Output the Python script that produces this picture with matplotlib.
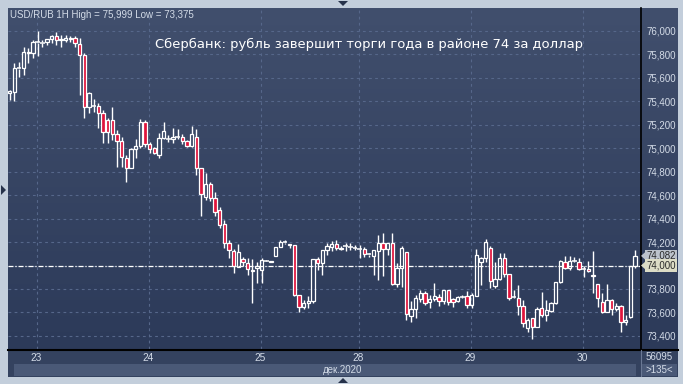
import numpy as np
import matplotlib
matplotlib.use('Agg')
import matplotlib.pyplot as plt
from matplotlib.patches import Rectangle, Polygon
from matplotlib.lines import Line2D
from matplotlib.colors import LinearSegmentedColormap
from matplotlib.ticker import FuncFormatter

# ---------------- data (USD/RUB, 1H candles, 22-30 Dec 2020) ----------------
opens = [75.471, 75.482, 75.682, 75.682, 75.818, 75.810,
         75.904, 75.900, 75.902, 75.932, 75.957, 75.923, 75.923, 75.943, 75.938, 75.887, 75.795, 75.354,
         75.360, 75.363, 75.298, 75.241, 75.241, 75.119, 75.062, 74.919, 74.834, 74.994, 75.019, 75.221,
         75.036, 75.000, 74.940, 75.085, 75.082, 75.076, 75.093, 75.093, 75.062, 75.019, 75.093, 74.829,
         74.582, 74.695, 74.573, 74.473, 74.351, 74.194, 74.126, 73.990, 74.053, 74.024, 73.960, 73.976,
         73.962, 74.040, 74.028, 74.084, 74.160, 74.198, 74.180, 74.175, 73.748, 73.649, 73.678, 73.697,
         74.055, 74.019, 74.128, 74.160, 74.181, 74.153, 74.165, 74.160, 74.153,
         74.140, 74.141, 74.095, 74.084, 74.124, 74.189, 74.141, 74.189, 73.840, 73.976, 74.112, 73.572,
         73.629, 73.715, 73.763, 73.686, 73.714, 73.729, 73.697, 73.791, 73.714, 73.697, 73.734, 73.742,
         73.663, 73.742, 74.027, 74.061, 74.147, 73.823, 73.885, 74.067, 73.925, 73.734, 73.725, 73.657,
         73.469, 73.550, 73.478, 73.635, 73.578, 73.612, 73.678, 73.857, 74.032, 73.976, 74.038, 74.032,
         73.970, 73.970, 73.920, 73.840, 73.686, 73.606, 73.706, 73.629, 73.657, 73.521, 73.563, 73.998]
highs = [75.497, 75.725, 75.738, 75.866, 75.858, 75.923,
         75.999, 75.923, 75.935, 75.966, 75.994, 75.966, 75.966, 75.960, 75.960, 75.938, 75.810, 75.482,
         75.420, 75.383, 75.326, 75.255, 75.354, 75.156, 75.098, 74.942, 75.005, 75.076, 75.247, 75.241,
         75.056, 75.008, 75.133, 75.221, 75.113, 75.170, 75.164, 75.121, 75.070, 75.190, 75.162, 74.829,
         74.791, 74.715, 74.629, 74.501, 74.388, 74.217, 74.138, 74.183, 74.070, 74.061, 74.053, 74.032,
         74.061, 74.045, 74.040, 74.160, 74.217, 74.217, 74.181, 74.177, 73.748, 73.706, 73.742, 74.058,
         74.075, 74.135, 74.189, 74.209, 74.217, 74.169, 74.189, 74.189, 74.175,
         74.175, 74.160, 74.104, 74.135, 74.260, 74.277, 74.192, 74.275, 74.019, 74.169, 74.114, 73.697,
         73.748, 73.791, 73.782, 73.748, 73.848, 73.754, 73.794, 73.794, 73.725, 73.742, 73.748, 73.782,
         73.763, 74.141, 74.075, 74.226, 74.169, 74.032, 74.104, 74.104, 73.925, 73.791, 73.834, 73.706,
         73.550, 73.555, 73.649, 73.777, 73.706, 73.691, 73.860, 74.047, 74.084, 74.084, 74.075, 74.061,
         73.998, 74.038, 74.124, 73.842, 73.763, 73.840, 73.714, 73.678, 73.663, 73.578, 74.000, 74.132]
lows = [75.411, 75.403, 75.610, 75.625, 75.725, 75.767,
        75.789, 75.866, 75.881, 75.895, 75.881, 75.866, 75.909, 75.904, 75.866, 75.454, 75.255, 75.298,
        75.307, 75.170, 75.042, 75.042, 75.070, 74.843, 74.843, 74.715, 74.832, 74.914, 75.000, 75.008,
        74.962, 74.951, 74.914, 75.076, 75.056, 75.047, 75.076, 75.036, 75.008, 75.008, 74.772, 74.422,
        74.559, 74.553, 74.422, 74.317, 74.147, 74.061, 73.933, 73.985, 73.996, 73.919, 73.678, 73.848,
        73.848, 74.035, 74.026, 74.080, 74.160, 74.181, 74.147, 73.742, 73.606, 73.629, 73.640, 73.678,
        73.962, 73.919, 74.090, 74.124, 74.132, 74.132, 74.124, 74.132, 74.132,
        74.066, 74.075, 74.075, 73.919, 73.876, 73.910, 74.090, 73.838, 73.819, 73.819, 73.535, 73.521,
        73.550, 73.691, 73.663, 73.640, 73.697, 73.657, 73.669, 73.663, 73.649, 73.686, 73.720, 73.640,
        73.640, 73.742, 73.834, 74.032, 73.811, 73.805, 73.876, 73.904, 73.706, 73.720, 73.578, 73.478,
        73.435, 73.375, 73.476, 73.564, 73.527, 73.601, 73.676, 73.855, 73.970, 73.962, 74.027, 73.962,
        73.904, 73.942, 73.763, 73.649, 73.592, 73.601, 73.578, 73.612, 73.430, 73.493, 73.555, 73.981]
closes = [75.484, 75.682, 75.680, 75.818, 75.810, 75.904,
          75.900, 75.902, 75.932, 75.957, 75.923, 75.930, 75.943, 75.935, 75.895, 75.795, 75.354, 75.469,
          75.363, 75.298, 75.141, 75.141, 75.119, 75.062, 74.928, 74.834, 74.994, 75.019, 75.221, 75.036,
          74.991, 74.957, 75.085, 75.147, 75.080, 75.093, 75.092, 75.064, 75.019, 75.121, 74.829, 74.607,
          74.695, 74.573, 74.459, 74.345, 74.194, 74.132, 73.996, 74.118, 74.030, 73.967, 73.955, 73.996,
          74.047, 74.038, 74.038, 74.155, 74.198, 74.196, 74.172, 73.748, 73.649, 73.678, 73.697, 74.055,
          74.019, 74.132, 74.169, 74.181, 74.153, 74.141, 74.169, 74.158, 74.150,
          74.138, 74.095, 74.093, 74.132, 74.189, 74.141, 74.189, 73.840, 73.976, 74.152, 73.584, 73.629,
          73.720, 73.763, 73.678, 73.714, 73.742, 73.697, 73.791, 73.691, 73.691, 73.734, 73.735, 73.663,
          73.748, 74.090, 74.061, 74.203, 73.868, 73.885, 74.067, 73.925, 73.725, 73.732, 73.657, 73.507,
          73.535, 73.478, 73.629, 73.578, 73.620, 73.678, 73.857, 74.038, 73.976, 74.038, 74.040, 73.970,
          73.967, 73.953, 73.913, 73.725, 73.606, 73.706, 73.629, 73.657, 73.516, 73.535, 73.998, 74.082]

day_labels = ['23', '24', '25', '28', '29', '30']
day_start_index = [6, 30, 54, 75, 99, 123]
price_ticks = [73.4, 73.6, 73.8, 74.0, 74.2, 74.4, 74.6, 74.8, 75.0, 75.2, 75.4, 75.6, 75.8, 76.0]
ref_level = 74.000
last_price = 74.082
header = 'USD/RUB 1H High = 75,999 Low = 73,375'
title = 'Сбербанк: рубль завершит торги года в районе 74 за доллар'
month_label = 'дек.2020'
volume_label = '56095'
bars_label = '>135<'

# ---------------- figure ----------------
W, H = 683, 384
fig = plt.figure(figsize=(W / 100, H / 100), dpi=100)
fig.patch.set_facecolor('#c3cedb')


def prect(x0, y0, x1, y1):
    return [x0 / W, 1 - y1 / H, (x1 - x0) / W, (y1 - y0) / H]


def P(x, y):
    return (x / W, 1 - y / H)


TXT = '#d3dbe7'
RED = '#e0143c'

# background gradient (plot + right scale)
bg = fig.add_axes(prect(8, 8, 678, 349))
bg.set_zorder(-2)
cmap = LinearSegmentedColormap.from_list('bg', ['#2c3a59', '#414f6d'])
grad = np.linspace(0, 1, 256).reshape(-1, 1)
bg.imshow(grad, aspect='auto', cmap=cmap, origin='lower', extent=(0, 1, 0, 1))
bg.axis('off')

# bottom panel
fig.add_artist(Rectangle(P(8, 377), 670 / W, 28 / H, transform=fig.transFigure,
                         facecolor='#34425f', edgecolor='none', zorder=-1))
fig.add_artist(Rectangle(P(14, 376), 622 / W, 12 / H, transform=fig.transFigure,
                         facecolor='#4a5977', edgecolor='none', zorder=-1))
fig.add_artist(Rectangle(P(642, 376), 35 / W, 12 / H, transform=fig.transFigure,
                         facecolor='#4a5977', edgecolor='none', zorder=-1))
fig.add_artist(Line2D([8 / W, 678 / W], [1 - 349.5 / H] * 2, transform=fig.transFigure,
                      color='black', lw=1.5, zorder=5))
fig.add_artist(Line2D([640.5 / W, 640.5 / W], [1 - 349 / H, 1 - 8 / H], transform=fig.transFigure,
                      color='black', lw=1.2, zorder=5))
fig.add_artist(Line2D([640.5 / W, 640.5 / W], [1 - 376 / H, 1 - 350 / H], transform=fig.transFigure,
                      color='#6a7894', lw=0.8, zorder=5))

# main axes
ax = fig.add_axes(prect(8, 8, 640, 349))
ax.patch.set_alpha(0)
for s in ax.spines.values():
    s.set_visible(False)

O = np.array(opens); Hh = np.array(highs); L = np.array(lows); C = np.array(closes)
n = len(O)
x = np.arange(n)
ax.set_xlim(-0.364, 135.06)
ax.set_ylim(73.288, 76.196)

# grid
ax.set_yticks(price_ticks)
ax.yaxis.set_major_formatter(FuncFormatter(lambda v, p: f'{v:.3f}'.replace('.', ',')))
grid_x = [i - 0.25 for i in day_start_index]
ax.set_xticks(grid_x)
ax.set_xticklabels(day_labels)
ax.grid(True, color='#56678a', lw=0.8, linestyle=(0, (2.5, 3)))
ax.set_axisbelow(True)
ax.yaxis.tick_right()
ax.tick_params(axis='y', length=0, pad=5, labelsize=7, labelcolor=TXT)
ax.tick_params(axis='x', length=0, pad=3, labelsize=7.3, labelcolor=TXT)
for lab in ax.get_yticklabels() + ax.get_xticklabels():
    lab.set_fontfamily('Liberation Sans')

# reference level line
ax.axhline(ref_level, color='white', lw=0.9, linestyle=(0, (4, 1.5, 1, 1.5)), zorder=2)

# candles
lo = np.minimum(O, C); hi = np.maximum(O, C)
ax.vlines(x, hi, Hh, color='white', lw=1.0, zorder=3)
ax.vlines(x, L, lo, color='white', lw=1.0, zorder=3)
hgt = hi - lo
flat = hgt < 0.004
up = (C >= O) & ~flat
dn = (C < O) & ~flat
ax.bar(x[up], hgt[up], bottom=lo[up], width=0.68, facecolor='none',
       edgecolor='white', linewidth=0.9, zorder=4)
ax.bar(x[dn], hgt[dn], bottom=lo[dn], width=0.68, facecolor=RED,
       edgecolor='white', linewidth=0.9, zorder=4)
ax.hlines(((O + C) / 2)[flat], x[flat] - 0.5, x[flat] + 0.5, color='white', lw=1.1, zorder=4)

# texts
fig.text(10 / W, 1 - 15 / H, header, fontsize=7, color=TXT, va='center', ha='left',
         family='Liberation Sans')
fig.text(155 / W, 1 - 44 / H, title, fontsize=9.45, color='white', va='center', ha='left',
         family='DejaVu Sans')
fig.text(343 / W, 1 - 370 / H, month_label, fontsize=7, color=TXT, va='center', ha='center',
         family='Liberation Sans')
fig.text(673 / W, 1 - 357 / H, volume_label, fontsize=7, color=TXT, va='center', ha='right',
         family='Liberation Sans')
fig.text(673 / W, 1 - 370 / H, bars_label, fontsize=7, color=TXT, va='center', ha='right',
         family='Liberation Sans')


def ypx(v):
    return 8 + (76.196 - v) / (76.196 - 73.288) * 341


for val, fc in [(last_price, '#bcc2cb'), (ref_level, '#dcdcc6')]:
    yy = ypx(val)
    fig.text(646 / W, 1 - yy / H, f'{val:.3f}'.replace('.', ','), fontsize=7, color='#2a2a2a',
             va='center', ha='left', family='Liberation Sans',
             bbox=dict(boxstyle='square,pad=0.12', fc=fc, ec='none'), zorder=6)
    fig.add_artist(Polygon([P(641, yy), P(646, yy - 4.5), P(646, yy + 4.5)], closed=True,
                           transform=fig.transFigure, facecolor=fc, edgecolor='none', zorder=6))

# small frame arrows
fig.add_artist(Polygon([P(338, 1), P(348, 1), P(343, 6)], closed=True, transform=fig.transFigure,
                       facecolor='#26324a', edgecolor='none'))
fig.add_artist(Polygon([P(338, 383), P(348, 383), P(343, 378)], closed=True, transform=fig.transFigure,
                       facecolor='#26324a', edgecolor='none'))
fig.add_artist(Polygon([P(1, 185), P(1, 195), P(6, 190)], closed=True, transform=fig.transFigure,
                       facecolor='#26324a', edgecolor='none'))

fig.savefig('out.png', dpi=100, facecolor=fig.get_facecolor())
